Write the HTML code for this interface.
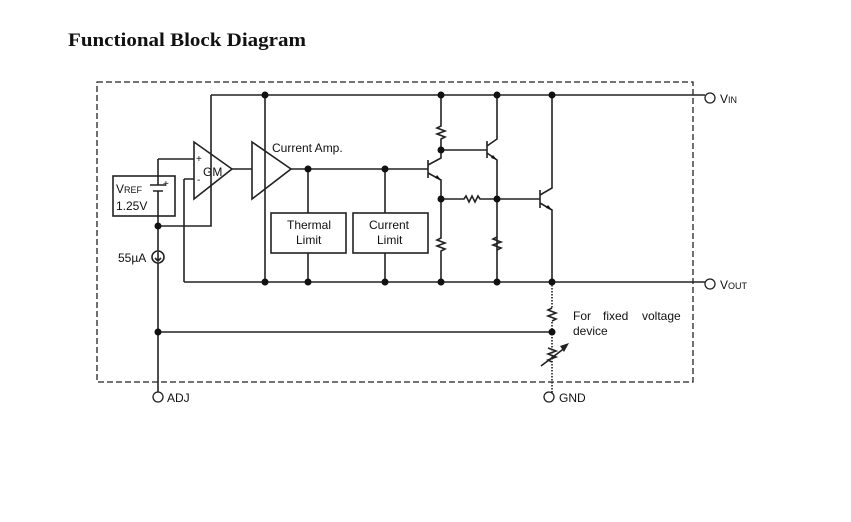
<!DOCTYPE html>
<html><head><style>
html,body{margin:0;padding:0;background:#fff;width:851px;height:522px;overflow:hidden}
svg{display:block}
text{font-family:"Liberation Sans",Arial,sans-serif;fill:#111}
</style></head><body>
<svg width="851" height="522" viewBox="0 0 851 522" xmlns="http://www.w3.org/2000/svg">
<text x="68" y="46" style="font-family:'Liberation Serif',serif;font-weight:bold;font-size:19px" textLength="238" lengthAdjust="spacingAndGlyphs">Functional Block Diagram</text>
<g fill="none" stroke="#222" stroke-width="1.6">
<rect x="97" y="82" width="596" height="300" stroke-dasharray="6,3" stroke-width="1.3"/>
<path d="M211 95H705"/>
<path d="M184 282H705"/>
<path d="M194 142L232 169L194 199Z"/>
<path d="M158 159H194M184 179H194M184 179V282"/>
<path d="M158 159V185M158 191V226M150 185H166M153 191H163"/>
<rect x="113" y="176" width="62" height="40"/>
<path d="M158 226H211V95"/>
<path d="M158 226V251M158 263V397"/>
<circle cx="158" cy="257" r="6"/>
<path d="M158 252V261M155 258L158 261L161 258"/>
<path d="M232 169H252M252 142L291 169L252 199Z"/>
<path d="M265 95V282"/>
<path d="M291 169H428"/>
<path d="M308 169V213M308 253V282M385 169V213M385 253V282"/>
<rect x="271" y="213" width="75" height="40"/>
<rect x="353" y="213" width="75" height="40"/>
<path d="M441 95V126L437 128L445 131L437 134L445 137L441 139V150"/>
<path d="M441 150H487"/>
<path d="M428 160V178M428 165L441 158V150M428 173L441 180V199"/>
<path d="M441 199V238L437 240L445 243L437 246L445 249L441 251V282"/>
<path d="M441 199H464L466 196L469 202L472 196L475 202L478 196L480 199H540"/>
<path d="M487 141V158M487 146L497 139V95M487 153L497 160V282"/>
<path d="M497 237L493 239L501 242L493 245L501 248L497 250"/>
<path d="M540 190V208M540 195L552 188V95M540 203L552 210V282"/>
<path d="M158 332H552"/>
<path d="M552 282V308M552 322V397" stroke-dasharray="1.5,1.5"/>
<path d="M552 308L548 310L556 313L548 316L556 319L552 321" />
<path d="M548 348L556 351L548 354L556 357L548 360L552 362"/>
<path d="M541 366L566 347"/>
</g>
<path d="M569 343L560 346L564 352Z" fill="#222"/>
<g fill="#111">
<circle cx="265" cy="95" r="3.5"/><circle cx="441" cy="95" r="3.5"/><circle cx="497" cy="95" r="3.5"/><circle cx="552" cy="95" r="3.5"/>
<circle cx="265" cy="282" r="3.5"/><circle cx="308" cy="282" r="3.5"/><circle cx="385" cy="282" r="3.5"/><circle cx="441" cy="282" r="3.5"/><circle cx="497" cy="282" r="3.5"/><circle cx="552" cy="282" r="3.5"/>
<circle cx="308" cy="169" r="3.5"/><circle cx="385" cy="169" r="3.5"/>
<circle cx="441" cy="150" r="3.5"/><circle cx="441" cy="199" r="3.5"/><circle cx="497" cy="199" r="3.5"/>
<circle cx="158" cy="226" r="3.5"/><circle cx="158" cy="332" r="3.5"/><circle cx="552" cy="332" r="3.5"/>
<path d="M441 180L435 178L437 175Z M497 160L491 158L493 155Z M552 210L546 208L548 205Z"/>
</g>
<g fill="#fff" stroke="#222" stroke-width="1.3">
<circle cx="710" cy="98" r="5"/><circle cx="710" cy="284" r="5"/>
<circle cx="158" cy="397" r="5"/><circle cx="549" cy="397" r="5"/>
</g>
<g font-size="12">
<text x="720" y="103">V<tspan font-size="9">IN</tspan></text>
<text x="720" y="289">V<tspan font-size="9">OUT</tspan></text>
<text x="167" y="402">ADJ</text>
<text x="559" y="402">GND</text>
<text x="272" y="152">Current Amp.</text>
<text x="203" y="176">GM</text>
<text x="196" y="162" font-size="10">+</text>
<text x="197" y="183" font-size="10">-</text>
<text x="116" y="193">V<tspan font-size="9">REF</tspan></text>
<text x="163" y="187" font-size="10">+</text>
<text x="116" y="210">1.25V</text>
<text x="118" y="262">55µA</text>
<text x="287" y="229">Thermal</text>
<text x="296" y="244">Limit</text>
<text x="369" y="229">Current</text>
<text x="377" y="244">Limit</text>
<text y="320"><tspan x="573">For</tspan> <tspan x="603">fixed</tspan> <tspan x="642">voltage</tspan></text>
<text x="573" y="335">device</text>
</g>
</svg>
</body></html>
